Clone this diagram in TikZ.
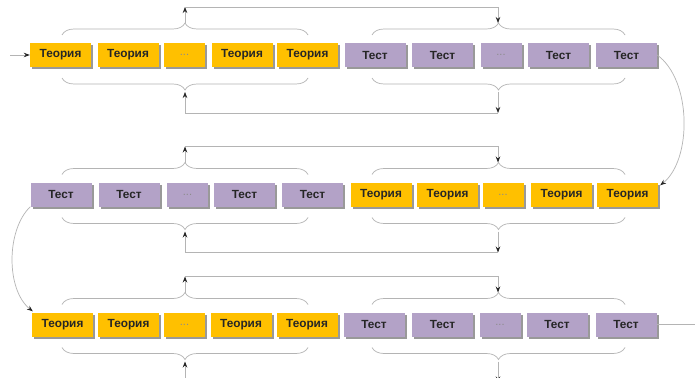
\documentclass[tikz,border=0pt]{standalone}
\usepackage{fontspec}
\setmainfont{Liberation Sans}
\usetikzlibrary{arrows.meta,shadows,decorations.pathreplacing,backgrounds,calc}
\definecolor{orng}{HTML}{FFC000}
\definecolor{lilac}{HTML}{B3A2C7}
\definecolor{lnk}{HTML}{B4B4B4}
\begin{document}
\begin{tikzpicture}[x=1pt,y=-1pt,
  box/.style={minimum height=24pt, inner sep=0pt, font=\bfseries\fontsize{11.8}{13}\selectfont, text=black!85,
    drop shadow={shadow xshift=2pt,shadow yshift=-2pt,fill=black!40,opacity=1}},
  wide/.style={minimum width=61pt},
  narrow/.style={minimum width=41pt},
  theo/.style={box,wide,fill=orng},
  test/.style={box,wide,fill=lilac},
  dtheo/.style={box,narrow,fill=orng,font=\fontsize{11}{13}\selectfont,text=black!45},
  dtest/.style={box,narrow,fill=lilac,font=\fontsize{11}{13}\selectfont,text=black!45},
  lnkline/.style={draw=lnk,line width=0.7pt},
  tip/.style={-{Stealth[length=6pt,width=4.5pt,color=black!85]}},
  brc/.style={draw=lnk,line width=0.7pt,decorate,decoration={brace,amplitude=12pt}}
]
\fill[white] (0,0) rectangle (695,377);
\clip (0,0) rectangle (695,377);

% Row 1
\node[theo]  (r1a1) at (60.5,55) {Теория};
\node[theo]  (r1a2) at (128,55) {Теория};
\node[dtheo] (r1a3) at (184.5,55) {...};
\node[theo]  (r1a4) at (242,55) {Теория};
\node[theo]  (r1a5) at (307.5,55) {Теория};
\node[test]  (r1b1) at (375,55) {Тест};
\node[test]  (r1b2) at (442.5,55) {Тест};
\node[dtest] (r1b3) at (501,55) {...};
\node[test]  (r1b4) at (558.5,55) {Тест};
\node[test]  (r1b5) at (626.5,55) {Тест};

% Row 2
\node[test]  (r2a1) at (61,194.5) {Тест};
\node[test]  (r2a2) at (129,194.5) {Тест};
\node[dtest] (r2a3) at (187.5,194.5) {...};
\node[test]  (r2a4) at (244.5,194.5) {Тест};
\node[test]  (r2a5) at (312.5,194.5) {Тест};
\node[theo]  (r2b1) at (381,194.5) {Теория};
\node[theo]  (r2b2) at (447.5,194.5) {Теория};
\node[dtheo] (r2b3) at (503,194.5) {...};
\node[theo]  (r2b4) at (561.5,194.5) {Теория};
\node[theo]  (r2b5) at (627.5,194.5) {Теория};

% Row 3
\node[theo]  (r3a1) at (62.5,324.5) {Теория};
\node[theo]  (r3a2) at (128.5,324.5) {Теория};
\node[dtheo] (r3a3) at (184.5,324.5) {...};
\node[theo]  (r3a4) at (241,324.5) {Теория};
\node[theo]  (r3a5) at (307,324.5) {Теория};
\node[test]  (r3b1) at (374,324.5) {Тест};
\node[test]  (r3b2) at (442.5,324.5) {Тест};
\node[dtest] (r3b3) at (500,324.5) {...};
\node[test]  (r3b4) at (557,324.5) {Тест};
\node[test]  (r3b5) at (626,324.5) {Тест};

\coordinate (start) at (10,55);
\coordinate (finish) at (695,324.5);

\begin{scope}[on background layer]
  \path[lnkline] (r1a1.center) -- (r1b5.center);
  \path[lnkline] (r2a1.center) -- (r2b5.center);
  \path[lnkline] (r3a1.center) -- (r3b5.center);
\end{scope}
\path[lnkline] (r3b5.east) -- (finish);
\path[lnkline,tip] (start) -- (r1a1.west);

% braces and their links
\foreach \y in {55,194.5,324.5}{
  \path[brc] (62,\y-20) -- (308,\y-20);
  \path[brc] (372,\y-20) -- (625,\y-20);
  \path[brc] (308,\y+23) -- (62,\y+23);
  \path[brc] (625,\y+23) -- (372,\y+23);
  \coordinate (ta) at (185,\y-32);
  \coordinate (tb) at (498,\y-32);
  \coordinate (tca) at (185,\y-48);
  \coordinate (tcb) at (498,\y-48);
  \coordinate (ba) at (185,\y+37);
  \coordinate (bb) at (498,\y+37);
  \coordinate (bca) at (185,\y+58);
  \coordinate (bcb) at (498,\y+58);
  \path[lnkline,tip] (ta) -- (tca);
  \path[lnkline,tip] (tca) -- (tcb) -- (tb);
  \path[lnkline,tip] (bb) -- (bcb);
  \path[lnkline,tip] (bcb) -- (bca) -- (ba);
}

% row transitions
\path[lnkline,tip] (r1b5.east) .. controls (692,80) and (692,160) .. ($(r2b5.north east)+(2,3)$);
\path[lnkline,tip] (r2a1.south west) .. controls (6,230) and (6,290) .. ($(r3a1.north west)+(1,-1)$);
\end{tikzpicture}
\end{document}
